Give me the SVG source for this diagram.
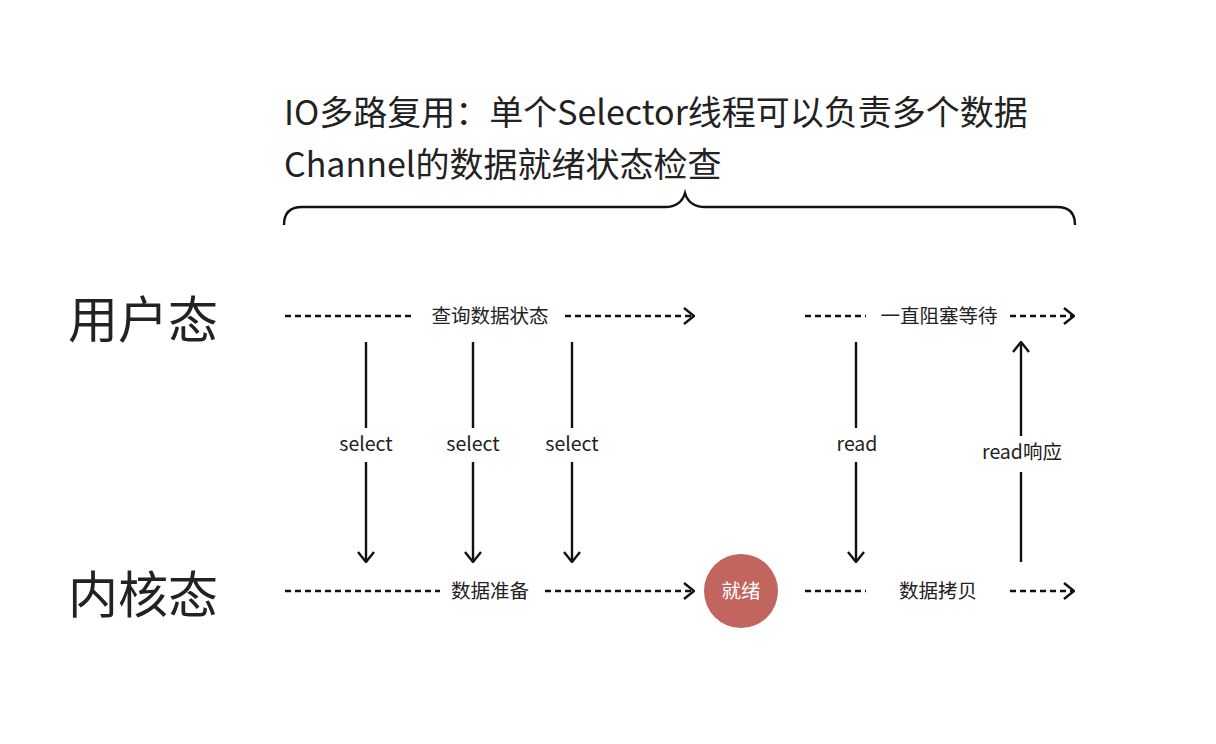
<svg xmlns="http://www.w3.org/2000/svg" width="1216" height="744" viewBox="0 0 1216 744">
<style>
text{font-family:"Noto Sans CJK SC","Noto Sans",sans-serif;fill:#222}
.t{font-size:34px}
.big{font-size:50px}
.lb{font-size:19.5px;text-anchor:middle}
.d{stroke:#111;stroke-width:2.4;stroke-dasharray:6 4;fill:none}
.s{stroke:#111;stroke-width:2.4;fill:none}
</style>
<defs>
<marker id="ah" viewBox="0 0 12 18" refX="11" refY="9" markerWidth="12" markerHeight="18" markerUnits="userSpaceOnUse" orient="auto">
<path d="M1,1 L11,9 L1,17" fill="none" stroke="#111" stroke-width="2.4"/>
</marker>
</defs>
<rect width="1216" height="744" fill="#fff"/>
<g id="title">
<text class="t" x="284" y="125">IO多路复用：单个Selector线程可以负责多个数据</text>
<text class="t" x="284" y="177">Channel的数据就绪状态检查</text>
</g>
<g id="brace">
<path class="s" d="M284,225 Q284,207 302,207 L665,207 Q681,207 685,193 Q689,207 705,207 L1057,207 Q1075,207 1075,225" stroke-width="3"/>
</g>
<g id="user-label"><text class="big" x="68" y="338">用户态</text></g>
<g id="kernel-label"><text class="big" x="68" y="613">内核态</text></g>
<g id="ready">
<circle cx="741" cy="591" r="37" fill="#c2655e"/>
<text x="741" y="598" font-size="19.5" text-anchor="middle" style="fill:#fff">就绪</text>
</g>
<g id="connectors">
<path class="d" d="M285,316 H415"/>
<path class="d" d="M565,316 H694" marker-end="url(#ah)"/>
<path class="d" d="M805,316 H866"/>
<path class="d" d="M1010,316 H1074" marker-end="url(#ah)"/>
<path class="d" d="M285,591 H440"/>
<path class="d" d="M545,591 H694" marker-end="url(#ah)"/>
<path class="d" d="M805,591 H866"/>
<path class="d" d="M1010,591 H1074" marker-end="url(#ah)"/>
<path class="s" d="M366,342 V428"/>
<path class="s" d="M366,462 V562" marker-end="url(#ah)"/>
<path class="s" d="M473,342 V428"/>
<path class="s" d="M473,462 V562" marker-end="url(#ah)"/>
<path class="s" d="M572,342 V428"/>
<path class="s" d="M572,462 V562" marker-end="url(#ah)"/>
<path class="s" d="M856,342 V428"/>
<path class="s" d="M856,462 V562" marker-end="url(#ah)"/>
<path class="s" d="M1021,562 V472"/>
<path class="s" d="M1021,436 V342" marker-end="url(#ah)"/>
</g>
<g id="labels">
<text class="lb" x="490" y="323">查询数据状态</text>
<text class="lb" x="939" y="323">一直阻塞等待</text>
<text class="lb" x="490" y="598">数据准备</text>
<text class="lb" x="938" y="598">数据拷贝</text>
<text class="lb" x="366" y="451">select</text>
<text class="lb" x="473" y="451">select</text>
<text class="lb" x="572" y="451">select</text>
<text class="lb" x="857" y="451">read</text>
<text class="lb" x="1022" y="459">read响应</text>
</g>
</svg>
